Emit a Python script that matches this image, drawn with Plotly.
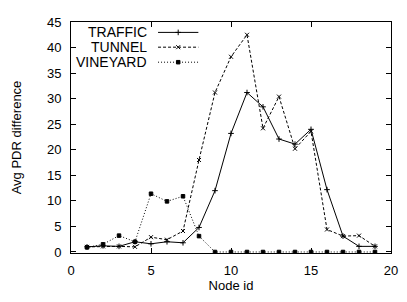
import plotly.graph_objects as go

node_ids = list(range(1, 20))
traffic = [1.0, 1.2, 1.1, 2.0, 1.6, 2.0, 1.8, 4.8, 12.0, 23.2, 31.2, 28.4, 22.1, 21.1, 24.0, 12.2, 3.1, 1.1, 1.1]
tunnel = [1.0, 1.1, 1.1, 1.0, 2.9, 2.4, 4.1, 18.0, 31.2, 38.2, 42.5, 24.2, 30.4, 20.2, 23.6, 4.4, 3.1, 3.2, 1.1]
vineyard = [0.9, 1.5, 3.2, 2.0, 11.4, 9.9, 10.9, 3.1, 0, 0, 0, 0, 0, 0, 0, 0, 0, 0, 0]

series_names = ["TRAFFIC", "TUNNEL", "VINEYARD"]
x_ticks = [0, 5, 10, 15, 20]
y_ticks = [0, 5, 10, 15, 20, 25, 30, 35, 40, 45]

FONT = "Liberation Sans, Arial, Helvetica, sans-serif"
styles = [
    dict(dash="solid", symbol="cross-thin-open", size=4),
    dict(dash="3px,2px", symbol="x-thin-open", size=4),
    dict(dash="1px,2px", symbol="square", size=3.5),
]

fig = go.Figure()
for name, ys, st in zip(series_names, [traffic, tunnel, vineyard], styles):
    fig.add_trace(go.Scatter(
        x=node_ids, y=ys, name=name, mode="lines+markers",
        line=dict(color="black", width=1, dash=st["dash"]),
        marker=dict(symbol=st["symbol"], size=st["size"], color="black",
                    line=dict(color="black", width=1)),
        showlegend=False,
    ))

# custom gnuplot-style key (text right-aligned, sample to the right)
key_y = [0.955, 0.891, 0.826]
for name, st, ky in zip(series_names, styles, key_y):
    fig.add_annotation(x=0.244, y=ky, xref="paper", yref="paper", text=name,
                       showarrow=False, xanchor="right", yanchor="middle",
                       font=dict(family=FONT, size=14, color="black"))
    fig.add_shape(type="line", xref="paper", yref="paper", x0=0.272, x1=0.398, y0=ky, y1=ky,
                  line=dict(color="black", width=1, dash=st["dash"]))
    fig.add_trace(go.Scatter(
        x=[0.335], y=[ky], xaxis="x2", yaxis="y2", mode="markers",
        marker=dict(symbol=st["symbol"], size=st["size"], color="black",
                    line=dict(color="black", width=1)),
        showlegend=False, hoverinfo="skip",
    ))

axis_common = dict(
    showline=True, linecolor="black", linewidth=1, mirror="ticks",
    ticks="inside", ticklen=5, tickcolor="black", showgrid=False, zeroline=False,
    tickfont=dict(family=FONT, size=13, color="black"),
)

fig.update_layout(
    width=407, height=302,
    margin=dict(l=71, r=9, t=22, b=49),
    paper_bgcolor="white", plot_bgcolor="white",
    font=dict(family=FONT, size=13, color="black"),
    xaxis=dict(range=[0, 20], tickvals=x_ticks, ticklabelstandoff=5,
               title=dict(text="Node id", font=dict(family=FONT, size=13), standoff=4),
               **axis_common),
    yaxis=dict(range=[-0.2, 45], tickvals=y_ticks, ticklabelstandoff=6,
               title=dict(text="Avg PDR difference", font=dict(family=FONT, size=13), standoff=22),
               **axis_common),
    xaxis2=dict(overlaying="x", range=[0, 1], visible=False),
    yaxis2=dict(overlaying="y", range=[0, 1], visible=False),
)

fig.write_html("out.html", config={"displayModeBar": False},
               post_script="document.body.style.margin='0px';document.body.style.overflow='hidden';")
